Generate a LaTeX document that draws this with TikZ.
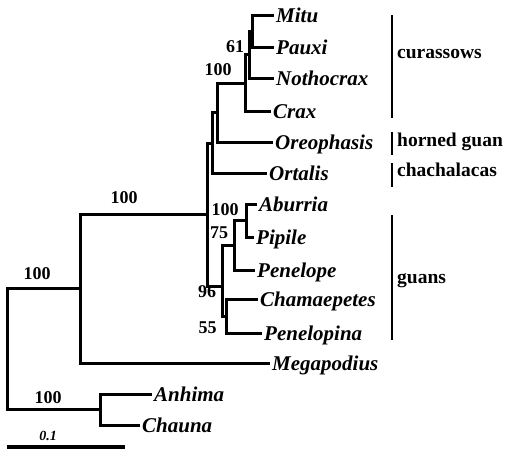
\documentclass[tikz,border=0pt]{standalone}
\usepackage{fontspec}
\setmainfont{Liberation Serif}
\usepackage{tikz}
\tikzset{
  branch/.style={line width=3pt, line join=miter, line cap=rect},
  taxon/.style={anchor=west, font=\fontsize{21}{21}\selectfont\bfseries\itshape, inner sep=0pt, xshift=4pt, text height=14pt, text depth=0pt},
  support/.style={anchor=base, font=\fontsize{18}{18}\selectfont\bfseries, inner sep=0pt},
  groupbar/.style={line width=1.1pt},
  grouplabel/.style={anchor=base west, font=\fontsize{19.5}{19.5}\selectfont\bfseries, inner sep=0pt},
  % --- scale bar ---
  scalebar/.style={line width=3.4pt},
  scalelabel/.style={anchor=base, font=\fontsize{14}{14}\selectfont\bfseries\itshape, inner sep=0pt},
}

\begin{document}
\begin{tikzpicture}[x=1pt,y=-1pt]
      \useasboundingbox (0,0) rectangle (509,450);

      \coordinate (tMitu) at (272,15);
      \coordinate (tPauxi) at (272,47);
      \coordinate (tNotho) at (272,78);
      \coordinate (tCrax) at (269,111);
      \coordinate (tOreo) at (271,142);
      \coordinate (tOrtalis) at (265,173);
      \coordinate (tAburria) at (255,204);
      \coordinate (tPipile) at (252,237);
      \coordinate (tPenelope) at (253,270);
      \coordinate (tChamae) at (256,299);
      \coordinate (tPenelopina) at (260,333);
      \coordinate (tMega) at (268,363);
      \coordinate (tAnhima) at (150,394);
      \coordinate (tChauna) at (138,425);

      \coordinate (nMP) at (252,31);
      \coordinate (n61) at (249,54.5);
      \coordinate (nCur) at (245,83);
      \coordinate (nOreo) at (217,112.5);
      \coordinate (nOrt) at (212,143);
      \coordinate (nAP) at (246,220.5);
      \coordinate (n75) at (234,245);
      \coordinate (n55) at (226,316);
      \coordinate (n96) at (222,286);
      \coordinate (nCrac) at (207,214.5);
      \coordinate (nGall) at (80,288);
      \coordinate (nAns) at (100,409.5);
      \coordinate (root) at (7,349);

      \draw[branch] (nMP) |- (tMitu);
      \draw[branch] (nMP) |- (tPauxi);
      \draw[branch] (n61) |- (nMP);
      \draw[branch] (n61) |- (tNotho);
      \draw[branch] (nCur) |- (n61);
      \draw[branch] (nCur) |- (tCrax);
      \draw[branch] (nOreo) |- (nCur);
      \draw[branch] (nOreo) |- (tOreo);
      \draw[branch] (nOrt) |- (nOreo);
      \draw[branch] (nOrt) |- (tOrtalis);

      \draw[branch] (nAP) |- (tAburria);
      \draw[branch] (nAP) |- (tPipile);
      \draw[branch] (n75) |- (nAP);
      \draw[branch] (n75) |- (tPenelope);
      \draw[branch] (n55) |- (tChamae);
      \draw[branch] (n55) |- (tPenelopina);
      \draw[branch] (n96) |- (n75);
      \draw[branch] (n96) |- (n55);

      \draw[branch] (nCrac) |- (nOrt);
      \draw[branch] (nCrac) |- (n96);
      \draw[branch] (nGall) |- (nCrac);
      \draw[branch] (nGall) |- (tMega);
      \draw[branch] (nAns) |- (tAnhima);
      \draw[branch] (nAns) |- (tChauna);
      \draw[branch] (root) |- (nGall);
      \draw[branch] (root) |- (nAns);

      \node[taxon] (mitu) at (tMitu) {Mitu};
      \node[taxon] (pauxi) at (tPauxi) {Pauxi};
      \node[taxon] (notho) at (tNotho) {Nothocrax};
      \node[taxon] (crax) at (tCrax) {Crax};
      \node[taxon] (oreo) at (tOreo) {Oreophasis};
      \node[taxon] (ortalis) at (tOrtalis) {Ortalis};
      \node[taxon] (aburria) at (tAburria) {Aburria};
      \node[taxon] (pipile) at (tPipile) {Pipile};
      \node[taxon] (penelope) at (tPenelope) {Penelope};
      \node[taxon] (chamae) at (tChamae) {Chamaepetes};
      \node[taxon] (penelopina) at (tPenelopina) {Penelopina};
      \node[taxon] (mega) at (tMega) {Megapodius};
      \node[taxon] (anhima) at (tAnhima) {Anhima};
      \node[taxon] (chauna) at (tChauna) {Chauna};

      \node[support] (s61) at (235,52) {61};
      \node[support] (sCur) at (218,75) {100};
      \node[support] (sAP) at (225,215) {100};
      \node[support] (s75) at (219,238) {75};
      \node[support] (s96) at (207,297) {96};
      \node[support] (s55) at (207.5,333) {55};
      \node[support] (sCrac) at (124,203) {100};
      \node[support] (sGall) at (37,279) {100};
      \node[support] (sAns) at (48,403) {100};

      \coordinate (bCurTop) at (392,15);
      \coordinate (bCurBot) at (392,118);
      \coordinate (bHornTop) at (392,132);
      \coordinate (bHornBot) at (392,155);
      \coordinate (bChaTop) at (392,163);
      \coordinate (bChaBot) at (392,187);
      \coordinate (bGuanTop) at (392,215);
      \coordinate (bGuanBot) at (392,340);
      \draw[groupbar] (bCurTop) -- (bCurBot);
      \draw[groupbar] (bHornTop) -- (bHornBot);
      \draw[groupbar] (bChaTop) -- (bChaBot);
      \draw[groupbar] (bGuanTop) -- (bGuanBot);
      \node[grouplabel] (curassows) at (397,58) {curassows};
      \node[grouplabel] (horned) at (397,146) {horned guan};
      \node[grouplabel] (chacha) at (397,176) {chachalacas};
      \node[grouplabel] (guans) at (397,283) {guans};

      \coordinate (barL) at (7,447);
      \coordinate (barR) at (125,447);
      \draw[scalebar] (barL) -- (barR);
      \node[scalelabel] (scale) at (48,440) {0.1};
    \end{tikzpicture}
\end{document}
